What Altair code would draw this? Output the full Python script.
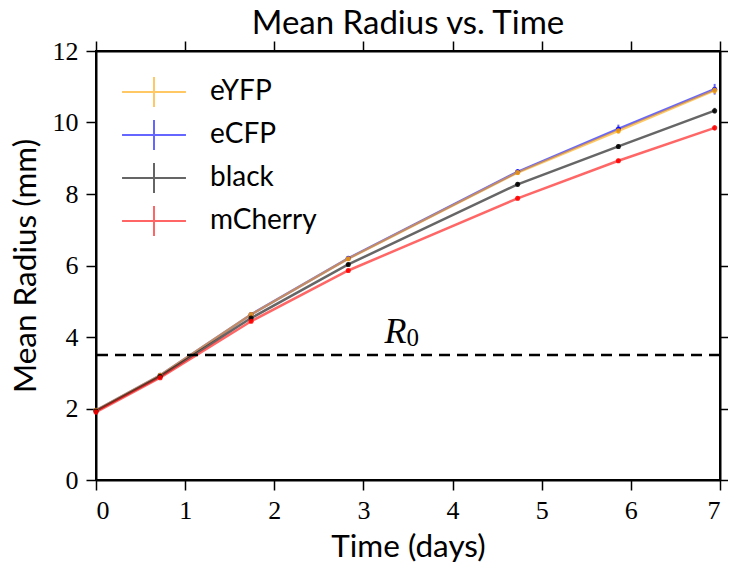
import altair as alt
import pandas as pd

series_names = ["eYFP", "eCFP", "black", "mCherry"]
series_colors = ["#FFA500", "#0000FF", "#000000", "#FF0000"]
draw_order = ["eCFP", "eYFP", "black", "mCherry"]
times = [0.0, 0.72, 1.74, 2.83, 4.73, 5.86, 6.94]
eyfp = [1.95, 2.93, 4.63, 6.19, 8.60, 9.77, 10.90]
ecfp = [1.95, 2.93, 4.63, 6.20, 8.62, 9.82, 10.93]
black = [1.93, 2.90, 4.53, 6.03, 8.27, 9.33, 10.33]
mcherry = [1.90, 2.86, 4.44, 5.86, 7.88, 8.93, 9.85]
eyfp_err = [0.04, 0.05, 0.06, 0.06, 0.07, 0.08, 0.10]
ecfp_err = [0.04, 0.05, 0.06, 0.06, 0.08, 0.12, 0.15]
black_err = [0.04, 0.04, 0.05, 0.05, 0.06, 0.06, 0.08]
mcherry_err = [0.04, 0.04, 0.05, 0.05, 0.06, 0.06, 0.07]
r0_value = 3.5
r0_label_pos = [3.36, 3.83]
x_ticks = [0, 1, 2, 3, 4, 5, 6, 7]
y_ticks = [0, 2, 4, 6, 8, 10, 12]

values = {"eYFP": (eyfp, eyfp_err), "eCFP": (ecfp, ecfp_err),
          "black": (black, black_err), "mCherry": (mcherry, mcherry_err)}
rows = []
for name in draw_order:
    vals, errs = values[name]
    for t, v, e in zip(times, vals, errs):
        rows.append({"series": name, "time": t, "radius": v,
                     "lo": v - e, "hi": v + e})
df = pd.DataFrame(rows)

xs = alt.Scale(domain=[0, 7], nice=False, zero=False)
ys = alt.Scale(domain=[0, 12], nice=False)
cs = alt.Scale(domain=series_names, range=series_colors)

axis_common = dict(grid=False, domainColor="black", domainWidth=2,
                   tickColor="black", tickWidth=1.5, tickSize=10,
                   labelFont="Liberation Serif", labelFontSize=26,
                   labelColor="black", titleFont="Lato", titleFontSize=31.5,
                   titleFontWeight="normal", titleColor="black")

x_bottom = alt.Axis(orient="bottom", values=x_ticks, title="Time (days)",
                    labelPadding=7, titlePadding=8, **axis_common)
y_left = alt.Axis(orient="left", values=y_ticks, title="Mean Radius (mm)",
                  labelPadding=8, titlePadding=10, **axis_common)
x_top = alt.Axis(orient="top", values=x_ticks, labels=False, title=None,
                 **axis_common)
y_right = alt.Axis(orient="right", values=y_ticks, labels=False, title=None,
                   **axis_common)

legend = alt.Legend(
    title=None, orient="none", legendX=42, legendY=25,
    symbolType="M-2.13,0H2.13M0,-1V1", symbolSize=900, symbolStrokeWidth=2,
    symbolOpacity=0.6, labelFont="Lato", labelFontSize=28, labelColor="black",
    labelOffset=40, rowPadding=5, padding=0,
)

lines = alt.Chart(df).mark_line(strokeWidth=2.5, opacity=0.6).encode(
    x=alt.X("time:Q", scale=xs, axis=x_bottom),
    y=alt.Y("radius:Q", scale=ys, axis=y_left),
    color=alt.Color("series:N", scale=cs, legend=legend),
)

errs = alt.Chart(df).mark_rule(strokeWidth=2, opacity=0.6).encode(
    x=alt.X("time:Q", scale=xs, axis=None),
    y=alt.Y("lo:Q", scale=ys, axis=None),
    y2="hi:Q",
    color=alt.Color("series:N", scale=cs, legend=None),
)

pts = alt.Chart(df).mark_circle(size=26, opacity=0.85).encode(
    x=alt.X("time:Q", scale=xs, axis=None),
    y=alt.Y("radius:Q", scale=ys, axis=None),
    color=alt.Color("series:N", scale=cs, legend=None),
)

r0_df = pd.DataFrame({"y": [r0_value]})
hline = alt.Chart(r0_df).mark_rule(color="black", strokeWidth=2.5,
                                   strokeDash=[11, 7]).encode(
    y=alt.Y("y:Q", scale=ys, axis=None)
)

lab_df = pd.DataFrame({"x": [r0_label_pos[0]], "y": [r0_label_pos[1]]})
r_text = alt.Chart(lab_df).mark_text(text="R", font="Liberation Serif",
                                     fontStyle="italic", fontSize=36,
                                     align="center", baseline="alphabetic",
                                     color="black").encode(
    x=alt.X("x:Q", scale=xs, axis=None), y=alt.Y("y:Q", scale=ys, axis=None))
zero_text = alt.Chart(lab_df).mark_text(text="0", font="Liberation Serif",
                                        fontSize=25, align="left",
                                        baseline="alphabetic", dx=11, dy=3,
                                        color="black").encode(
    x=alt.X("x:Q", scale=xs, axis=None), y=alt.Y("y:Q", scale=ys, axis=None))

mirror = alt.Chart(df).mark_point(opacity=0).encode(
    x=alt.X("time:Q", scale=xs, axis=x_top),
    y=alt.Y("radius:Q", scale=ys, axis=y_right),
)

chart = alt.layer(lines, errs, pts, hline, r_text, zero_text, mirror).resolve_axis(
    x="independent", y="independent"
).properties(
    width=624, height=429,
    title=alt.TitleParams("Mean Radius vs. Time", font="Lato", fontSize=33,
                          fontWeight="normal", color="black", offset=-5, dy=-2),
    autosize=alt.AutoSizeParams(type="none"),
    padding={"left": 88, "top": 43, "right": 8, "bottom": 87},
).configure_view(stroke="black", strokeWidth=2)

chart.save("out.html", embed_options={"renderer": "svg", "actions": False})
